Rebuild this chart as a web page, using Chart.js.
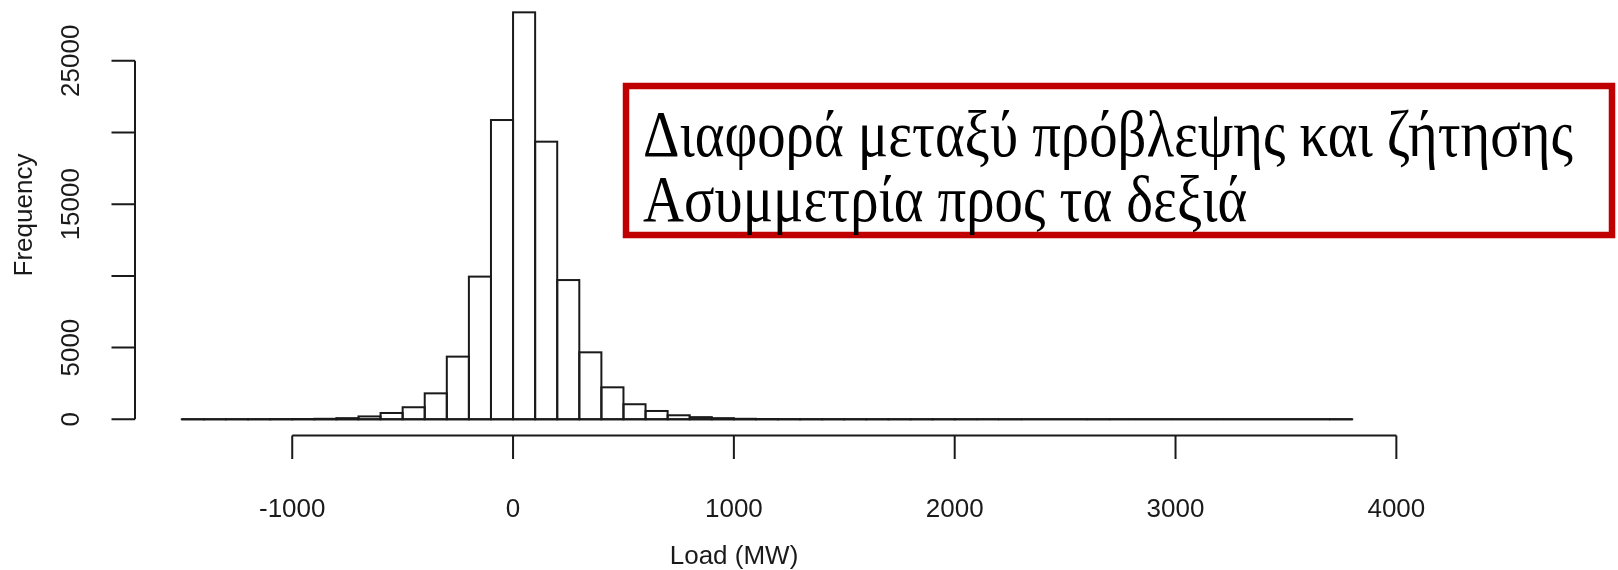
<!DOCTYPE html>
<html>
<head>
<meta charset="utf-8">
<script src="https://cdn.jsdelivr.net/npm/chart.js@4"></script>
<style>
  body { margin: 0; background: #fff; }
  canvas { display: block; }
</style>
</head>
<body>
<canvas id="hist" width="1618" height="570"></canvas>
<script>
// histogram bins (left edge, MW), width 100
const binStarts = [-1500, -1400, -1300, -1200, -1100, -1000, -900, -800, -700, -600,
  -500, -400, -300, -200, -100, 0, 100, 200, 300, 400,
  500, 600, 700, 800, 900, 1000, 1100, 1200, 1300, 1400,
  1500, 1600, 1700, 1800, 1900, 2000, 2100, 2200, 2300, 2400,
  2500, 2600, 2700, 2800, 2900, 3000, 3100, 3200, 3300, 3400,
  3500, 3600, 3700];
const binWidth = 100;
const frequency = [1, 1, 3, 5, 10, 18, 35, 80, 200, 440,
  840, 1810, 4370, 9950, 20870, 28380, 19360, 9710, 4670, 2230,
  1050, 580, 280, 150, 80, 35, 20, 12, 7, 5,
  3, 2, 2, 1, 1, 1, 0, 1, 0, 0,
  0, 1, 0, 0, 0, 0, 0, 0, 0, 0,
  0, 0, 1];

const xTicks = [-1000, 0, 1000, 2000, 3000, 4000];
const xTickLabels = ['-1000', '0', '1000', '2000', '3000', '4000'];
const yTicks = [0, 5000, 10000, 15000, 20000, 25000];
const yTickLabels = ['0', '5000', '', '15000', '', '25000'];
const xTitle = 'Load (MW)';
const yTitle = 'Frequency';
const noteLines = ['Διαφορά μεταξύ πρόβλεψης και ζήτησης', 'Ασυμμετρία προς τα δεξιά'];

const points = binStarts.map((b, i) => ({ x: b + binWidth / 2, y: frequency[i] }));

const ink = '#1a1a1a';
const axisFont = '26px "Liberation Sans", Arial, sans-serif';

// R-style outlines, detached axes and the red note box
const rStyle = {
  id: 'rStyle',
  afterDatasetsDraw(chart) {
    const ctx = chart.ctx;
    const xs = chart.scales.x, ys = chart.scales.y;
    ctx.save();
    ctx.strokeStyle = ink;
    ctx.lineWidth = 2;
    chart.getDatasetMeta(0).data.forEach(bar => {
      const p = bar.getProps(['x', 'y', 'base', 'width'], true);
      ctx.strokeRect(p.x - p.width / 2, p.y, p.width, p.base - p.y);
    });
    // zero line under the empty bins
    const y0 = ys.getPixelForValue(0);
    ctx.beginPath();
    ctx.moveTo(xs.getPixelForValue(binStarts[0]), y0);
    ctx.lineTo(xs.getPixelForValue(binStarts[binStarts.length - 1] + binWidth), y0);
    ctx.stroke();
    ctx.restore();
  },
  afterDraw(chart) {
    const ctx = chart.ctx;
    const area = chart.chartArea;
    const xs = chart.scales.x, ys = chart.scales.y;
    const tick = 23.5;
    ctx.save();
    ctx.strokeStyle = ink;
    ctx.fillStyle = ink;
    ctx.lineWidth = 2;
    ctx.font = axisFont;

    // x axis
    const ax = area.bottom;
    ctx.beginPath();
    ctx.moveTo(xs.getPixelForValue(xTicks[0]), ax);
    ctx.lineTo(xs.getPixelForValue(xTicks[xTicks.length - 1]), ax);
    xTicks.forEach(v => {
      const px = xs.getPixelForValue(v);
      ctx.moveTo(px, ax);
      ctx.lineTo(px, ax + tick);
    });
    ctx.stroke();
    ctx.textAlign = 'center';
    ctx.textBaseline = 'middle';
    xTicks.forEach((v, i) => {
      ctx.fillText(xTickLabels[i], xs.getPixelForValue(v), 510);
    });
    ctx.fillText(xTitle, 734, 557);

    // y axis
    const ay = area.left;
    ctx.beginPath();
    ctx.moveTo(ay, ys.getPixelForValue(yTicks[0]));
    ctx.lineTo(ay, ys.getPixelForValue(yTicks[yTicks.length - 1]));
    yTicks.forEach(v => {
      const py = ys.getPixelForValue(v);
      ctx.moveTo(ay, py);
      ctx.lineTo(ay - tick, py);
    });
    ctx.stroke();
    yTicks.forEach((v, i) => {
      if (!yTickLabels[i]) return;
      ctx.save();
      ctx.translate(72, ys.getPixelForValue(v));
      ctx.rotate(-Math.PI / 2);
      ctx.fillText(yTickLabels[i], 0, 0);
      ctx.restore();
    });
    ctx.save();
    ctx.translate(25, 215);
    ctx.rotate(-Math.PI / 2);
    ctx.fillText(yTitle, 0, 0);
    ctx.restore();

    // note box
    ctx.fillStyle = '#fff';
    ctx.fillRect(626, 86, 986, 149);
    ctx.strokeStyle = '#c00000';
    ctx.lineWidth = 6.5;
    ctx.strokeRect(626, 86, 986, 149);
    ctx.fillStyle = '#000';
    ctx.textAlign = 'left';
    ctx.textBaseline = 'alphabetic';
    ctx.font = '66px "Liberation Serif", "DejaVu Serif", serif';
    const w = ctx.measureText(noteLines[0]).width;
    const sx = 930 / w;
    [156, 221].forEach((by, i) => {
      ctx.save();
      ctx.translate(643, by);
      ctx.scale(sx, 1);
      ctx.fillText(noteLines[i], 0, 0);
      ctx.restore();
    });
    ctx.restore();
  }
};

new Chart(document.getElementById('hist'), {
  type: 'bar',
  data: {
    datasets: [{
      data: points,
      backgroundColor: '#ffffff',
      borderWidth: 0,
      barPercentage: 1,
      categoryPercentage: 1
    }]
  },
  options: {
    responsive: false,
    animation: false,
    devicePixelRatio: 1,
    layout: { padding: { left: 135, right: 219, top: 0, bottom: 134.5 } },
    scales: {
      x: { type: 'linear', min: -1712, max: 4012, offset: false, display: false },
      y: { min: -1130, max: 29240, display: false }
    },
    plugins: {
      legend: { display: false },
      tooltip: { enabled: false }
    }
  },
  plugins: [rStyle]
});
</script>
</body>
</html>
